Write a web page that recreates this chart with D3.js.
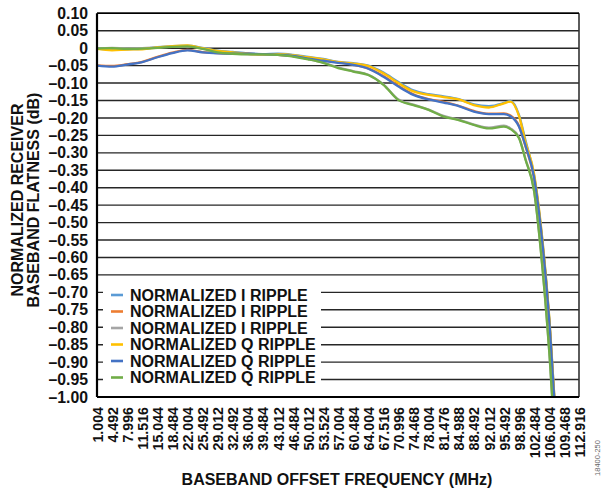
<!DOCTYPE html>
<html><head><meta charset="utf-8">
<script src="https://cdn.jsdelivr.net/npm/d3@7/dist/d3.min.js"></script>
<style>
body{margin:0;background:#fff}
svg{display:block}
text{font-family:"Liberation Sans",Arial,sans-serif;font-weight:bold;fill:#111}
</style>
</head><body>
<svg id="c" width="605" height="491"></svg>
<script>
// ---------- data ----------
const freq = [1.004,4.492,7.996,11.516,15.044,18.484,22.004,25.492,29.012,32.492,36.004,39.484,43.012,46.484,50.012,53.524,57.004,60.484,64.004,67.516,70.996,74.468,78.004,81.476,84.988,88.492,92.012,95.492,97.0,98.996,100.5,102.484,104.0,106.004,107.5,109.468];

const iRippleA = [-0.001,-0.004,-0.003,-0.002,0.003,0.006,0.007,0.001,-0.007,-0.011,-0.015,-0.017,-0.016,-0.019,-0.025,-0.031,-0.039,-0.043,-0.050,-0.070,-0.097,-0.121,-0.132,-0.138,-0.146,-0.161,-0.166,-0.157,-0.151,-0.192,-0.265,-0.365,-0.505,-0.775,-1.05,-1.25];
const iRippleB = [-0.049,-0.051,-0.046,-0.039,-0.025,-0.013,-0.005,-0.011,-0.014,-0.015,-0.016,-0.018,-0.019,-0.023,-0.029,-0.035,-0.041,-0.047,-0.058,-0.080,-0.108,-0.132,-0.146,-0.154,-0.165,-0.180,-0.188,-0.187,-0.193,-0.223,-0.282,-0.372,-0.512,-0.782,-1.06,-1.25];
const iRippleC = [-0.002,0.001,-0.001,0.000,0.002,0.004,0.006,-0.001,-0.011,-0.015,-0.017,-0.018,-0.018,-0.023,-0.031,-0.041,-0.055,-0.066,-0.076,-0.104,-0.147,-0.162,-0.176,-0.194,-0.205,-0.219,-0.228,-0.222,-0.230,-0.256,-0.318,-0.408,-0.572,-0.868,-1.15,-1.3];
const qRippleA = [-0.002,-0.006,-0.004,-0.003,0.002,0.006,0.008,0.000,-0.008,-0.012,-0.016,-0.018,-0.017,-0.020,-0.026,-0.032,-0.040,-0.044,-0.051,-0.072,-0.100,-0.124,-0.134,-0.140,-0.147,-0.163,-0.170,-0.158,-0.153,-0.195,-0.27,-0.36,-0.50,-0.77,-1.05,-1.25];
const qRippleB = [-0.050,-0.053,-0.047,-0.040,-0.026,-0.014,-0.006,-0.012,-0.015,-0.016,-0.016,-0.017,-0.019,-0.022,-0.030,-0.036,-0.042,-0.048,-0.059,-0.082,-0.110,-0.134,-0.147,-0.156,-0.166,-0.182,-0.189,-0.189,-0.195,-0.225,-0.28,-0.37,-0.51,-0.78,-1.06,-1.25];
const qRippleC = [-0.001,0.000,-0.002,-0.001,0.001,0.004,0.005,-0.002,-0.012,-0.016,-0.018,-0.018,-0.019,-0.024,-0.032,-0.042,-0.057,-0.067,-0.077,-0.105,-0.149,-0.163,-0.177,-0.196,-0.206,-0.220,-0.230,-0.225,-0.232,-0.258,-0.32,-0.41,-0.575,-0.87,-1.15,-1.3];

const seriesNames = ["NORMALIZED I RIPPLE","NORMALIZED I RIPPLE","NORMALIZED I RIPPLE","NORMALIZED Q RIPPLE","NORMALIZED Q RIPPLE","NORMALIZED Q RIPPLE"];
const seriesColors = ["#5B9BD5","#ED7D31","#A5A5A5","#FFC000","#4472C4","#70AD47"];
const seriesValues = [iRippleA,iRippleB,iRippleC,qRippleA,qRippleB,qRippleC];

const yTickValues = [0.10,0.05,0,-0.05,-0.10,-0.15,-0.20,-0.25,-0.30,-0.35,-0.40,-0.45,-0.50,-0.55,-0.60,-0.65,-0.70,-0.75,-0.80,-0.85,-0.90,-0.95,-1.00];
const xTickLabels = ["1.004","4.492","7.996","11.516","15.044","18.484","22.004","25.492","29.012","32.492","36.004","39.484","43.012","46.484","50.012","53.524","57.004","60.484","64.004","67.516","70.996","74.468","78.004","81.476","84.988","88.492","92.012","95.492","98.996","102.484","106.004","109.468","112.916"];

// ---------- layout ----------
const L = 97, R = 579, T = 13.3, B = 397;
const FF = '"Liberation Sans",Arial,sans-serif';
const svg = d3.select("#c");
const x = d3.scaleLinear().domain([+xTickLabels[0], +xTickLabels[xTickLabels.length-1]]).range([L, R]);
const y = d3.scaleLinear().domain([-1.0, 0.10]).range([B, T]);

// gridlines
svg.append("g").selectAll("line").data(yTickValues).join("line")
  .attr("x1", L).attr("x2", R)
  .attr("y1", d => y(d)).attr("y2", d => y(d))
  .attr("stroke", "#262626").attr("stroke-width", 1.4);

// y axis labels
const fmt = d => d === 0 ? "0" : (d < 0 ? "\u2013" : "") + Math.abs(d).toFixed(2);
const yAxis = d3.axisLeft(y).tickValues(yTickValues).tickFormat(fmt).tickSize(0).tickPadding(9);
const gy = svg.append("g").attr("transform", `translate(${L},0)`).call(yAxis);
gy.select(".domain").remove();
gy.selectAll("text").attr("font-size", 15.8).style("font-family", FF).style("font-weight","bold").attr("fill","#111");

// x axis labels
const xAxis = d3.axisBottom(x).tickValues(xTickLabels.map(Number)).tickFormat((d,i) => xTickLabels[i]).tickSize(0).tickPadding(0);
const gx = svg.append("g").attr("transform", `translate(0,${B})`).call(xAxis);
gx.select(".domain").remove();
gx.selectAll("text")
  .attr("transform", "rotate(-90)")
  .attr("text-anchor", "end")
  .attr("x", -10).attr("y", 0).attr("dy", "0.36em")
  .attr("font-size", 14.2).style("font-family", FF).style("font-weight","bold").attr("fill","#111");

// clip
svg.append("clipPath").attr("id","clip").append("rect").attr("x", L).attr("y", T).attr("width", R-L).attr("height", B-T);

// lines
const line = d3.line().x((d,i) => x(freq[i])).y(d => y(d)).curve(d3.curveMonotoneX);
const gl = svg.append("g").attr("clip-path","url(#clip)");
seriesValues.forEach((vals, k) => {
  gl.append("path").datum(vals).attr("d", line)
    .attr("fill","none").attr("stroke", seriesColors[k]).attr("stroke-width", 2.3)
    .attr("stroke-linejoin","round");
});

// legend
const lgY0 = 295, lgDy = 16.5;
svg.append("rect").attr("x", 103).attr("y", 284).attr("width", 218).attr("height", 104).attr("fill","#fff");
const lg = svg.append("g");
seriesNames.forEach((n, k) => {
  const yy = lgY0 + k*lgDy;
  lg.append("line").attr("x1", 111).attr("x2", 123).attr("y1", yy).attr("y2", yy)
    .attr("stroke", seriesColors[k]).attr("stroke-width", 2.6);
  lg.append("text").attr("x", 130).attr("y", yy).attr("dy","0.36em").attr("font-size", 16).text(n);
});

// frame
svg.append("line").attr("x1", L).attr("x2", L).attr("y1", T).attr("y2", B).attr("stroke","#000").attr("stroke-width", 2.2);
svg.append("line").attr("x1", R).attr("x2", R).attr("y1", T).attr("y2", B).attr("stroke","#333").attr("stroke-width", 1.6);
svg.append("line").attr("x1", L).attr("x2", R).attr("y1", B).attr("y2", B).attr("stroke","#000").attr("stroke-width", 2);
svg.append("line").attr("x1", L).attr("x2", R).attr("y1", T).attr("y2", T).attr("stroke","#000").attr("stroke-width", 1.6);

// titles
svg.append("text").attr("x", 337).attr("y", 485).attr("text-anchor","middle").attr("font-size", 16)
  .text("BASEBAND OFFSET FREQUENCY (MHz)");
const yt = svg.append("text").attr("transform","translate(23,200) rotate(-90)").attr("text-anchor","middle").attr("font-size", 16);
yt.append("tspan").attr("x",0).attr("y",0).text("NORMALIZED RECEIVER");
yt.append("tspan").attr("x",0).attr("y",15.5).text("BASEBAND FLATNESS (dB)");

svg.append("text").attr("transform","translate(600,458) rotate(-90)").attr("text-anchor","middle")
  .attr("font-size", 7.5).style("font-weight","normal").style("fill","#666").text("18400-250");
</script>
</body></html>
